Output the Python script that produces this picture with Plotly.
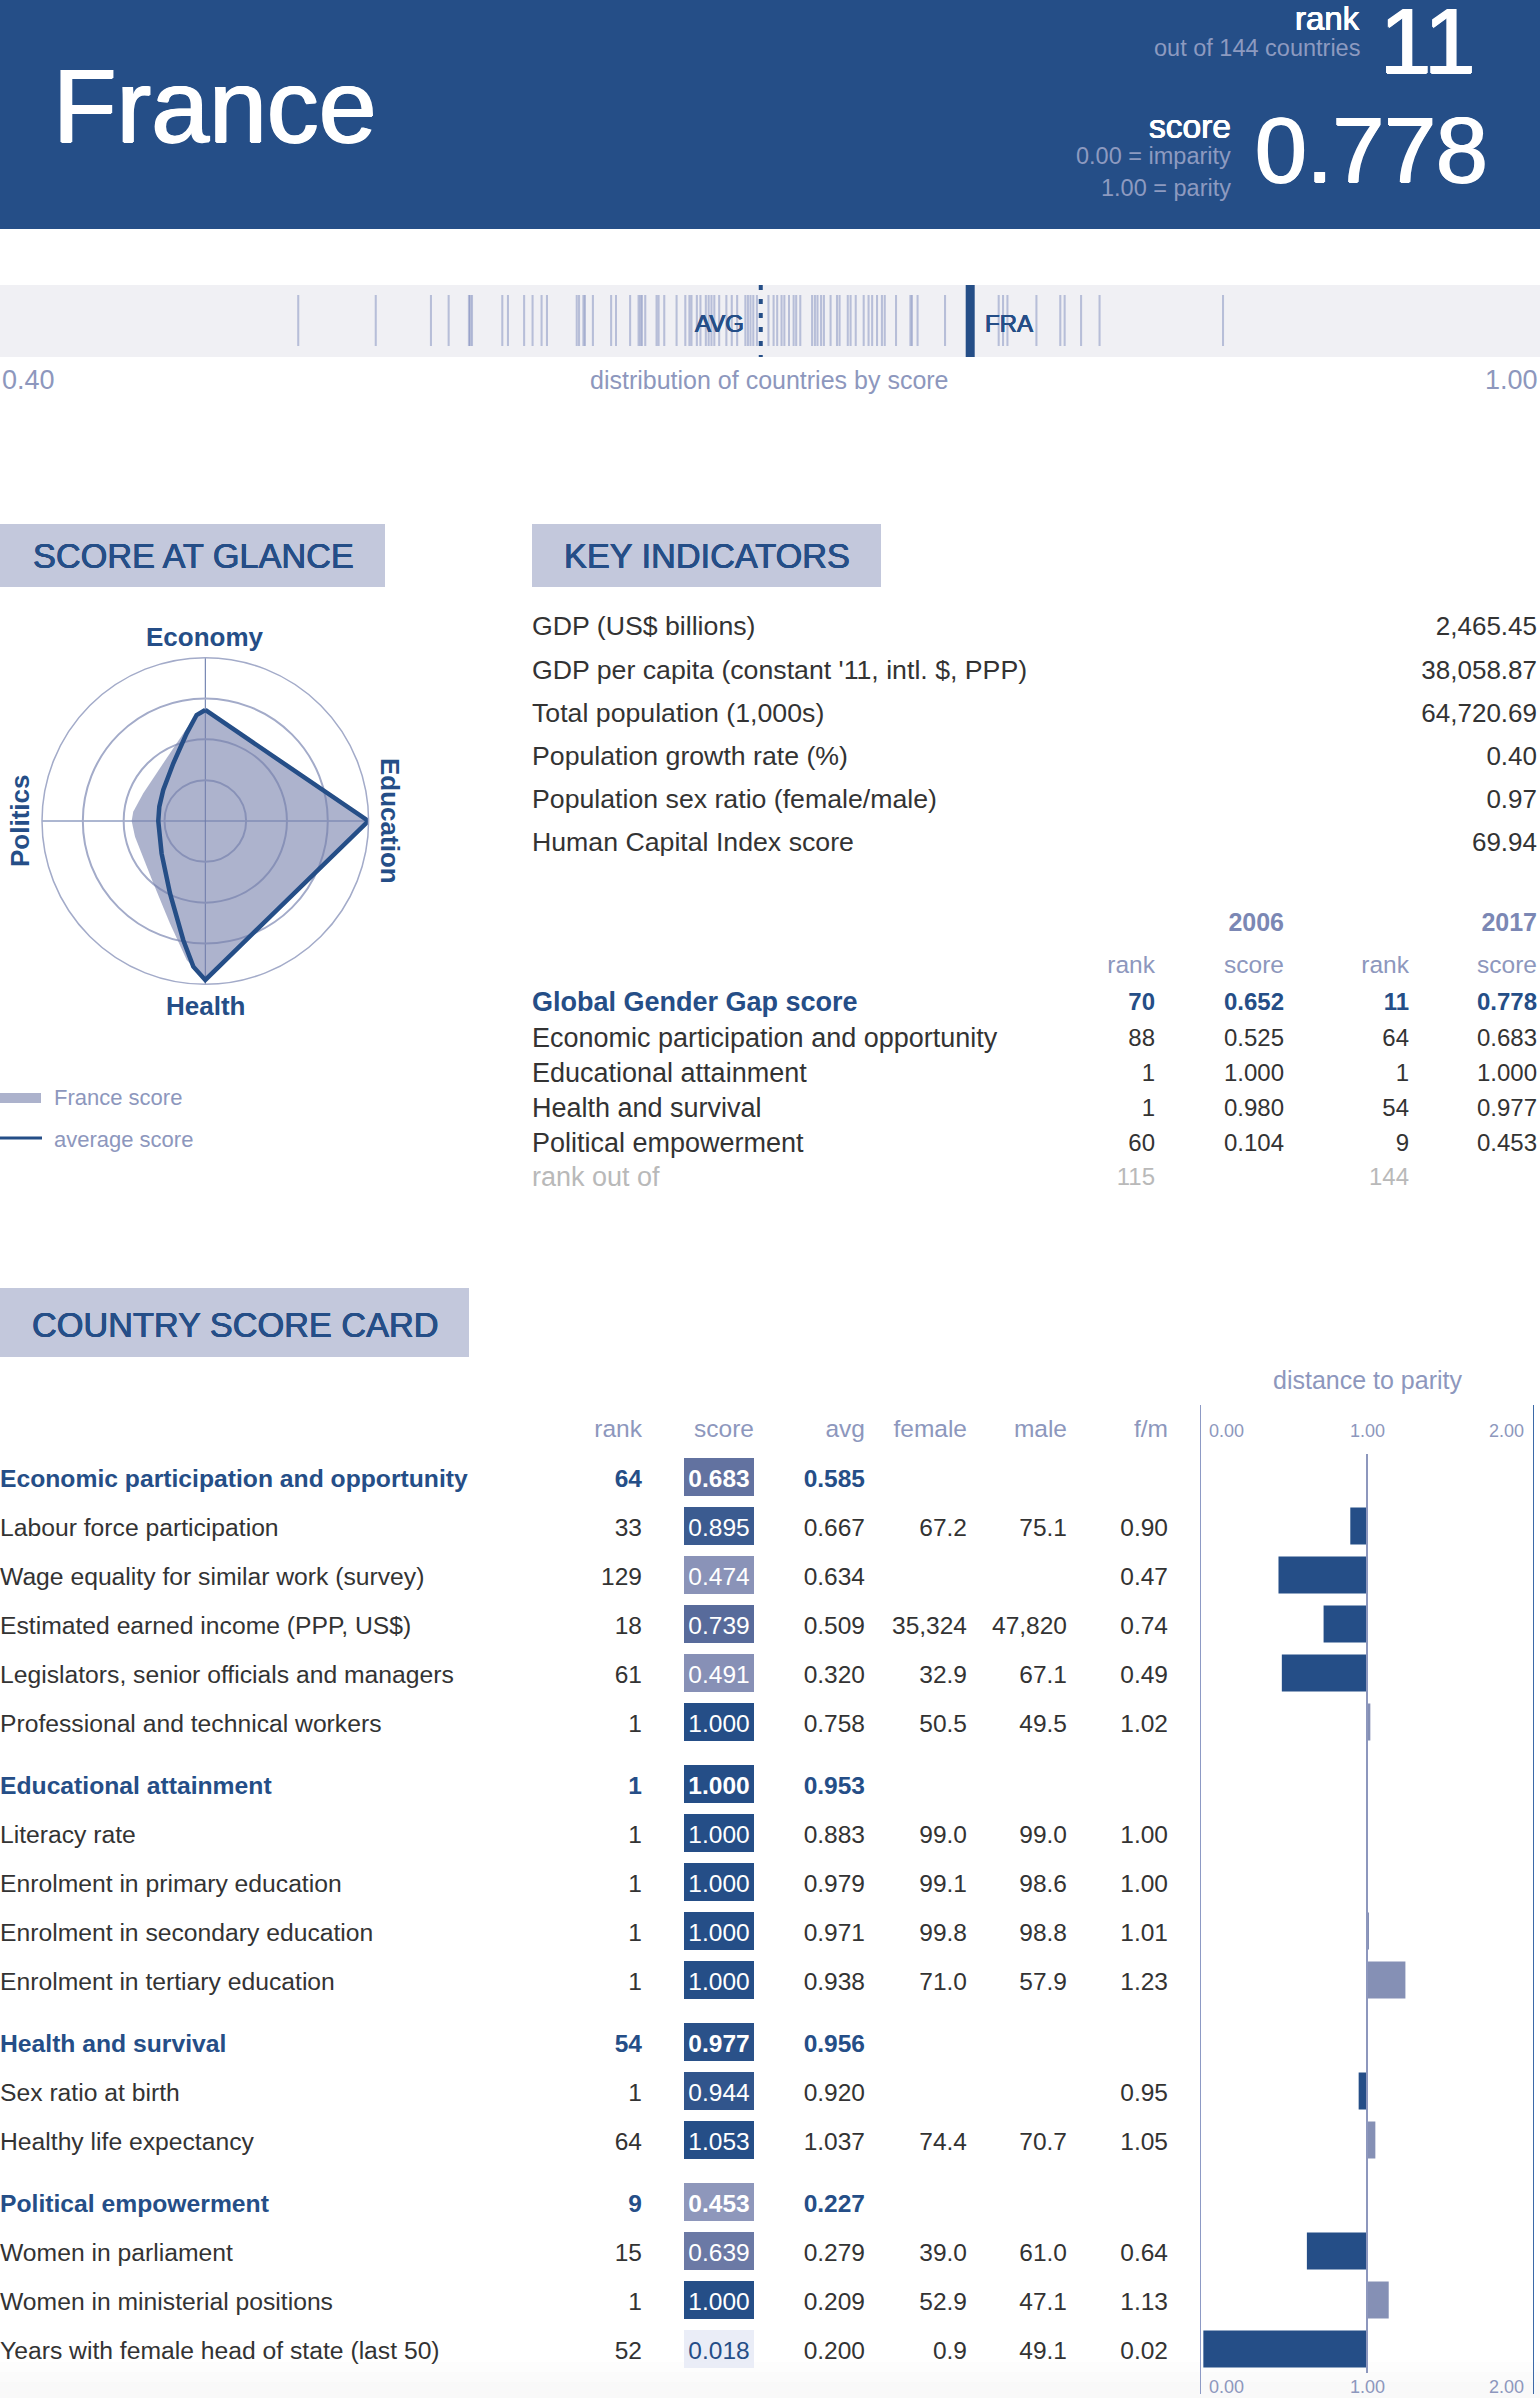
from plotly.colors import sample_colorscale
import plotly.graph_objects as go

W, H = 1540, 2398
NAVY = "#254e87"
PERI = "#8d97bd"
DARK = "#333333"
FONT = "Liberation Sans"

# distribution strip
country_scores = [
    0.5162, 0.5464, 0.5679, 0.5748, 0.5827, 0.5832, 0.5839, 0.5957, 0.5979, 0.6042, 0.6075, 0.6110,
    0.6131, 0.6247, 0.6256, 0.6273, 0.6279, 0.6310, 0.6381, 0.6400, 0.6455, 0.6488, 0.6495, 0.6501,
    0.6514, 0.6558, 0.6566, 0.6588, 0.6636, 0.6670, 0.6686, 0.6694, 0.6715, 0.6729, 0.6750, 0.6761,
    0.6772, 0.6783, 0.6802, 0.6830, 0.6851, 0.6872, 0.6904, 0.6914, 0.6924, 0.6935, 0.6949, 0.6994,
    0.7014, 0.7028, 0.7045, 0.7056, 0.7074, 0.7092, 0.7102, 0.7118, 0.7164, 0.7175, 0.7185, 0.7199,
    0.7210, 0.7236, 0.7261, 0.7271, 0.7303, 0.7314, 0.7334, 0.7365, 0.7384, 0.7398, 0.7417, 0.7436,
    0.7447, 0.7491, 0.7547, 0.7553, 0.7575, 0.7682, 0.7891, 0.7908, 0.7925, 0.8038, 0.8131, 0.8148,
    0.8212, 0.8284, 0.8765,
]
avg_score = 0.6964
fra_score = 0.778

# radar
france_theta = [90, 98.9, 126.1, 155.9, 172.6, 180, 192.6, 230.2, 250.9, 262.4, 270, 360, 450]
france_r = [0.68, 0.605, 0.437, 0.416, 0.445, 0.451, 0.441, 0.497, 0.663, 0.859, 0.973, 0.998, 0.68]
avg_theta = [90, 94.7, 102, 119, 143.6, 162.7, 180, 216.5, 244, 259.5, 265.3, 270, 360, 450]
avg_r = [0.68, 0.651, 0.549, 0.404, 0.32, 0.295, 0.288, 0.333, 0.493, 0.741, 0.895, 0.973, 0.998, 0.68]

# key indicators
key_labels = [
    "GDP (US$ billions)", "GDP per capita (constant '11, intl. $, PPP)", "Total population (1,000s)",
    "Population growth rate (%)", "Population sex ratio (female/male)", "Human Capital Index score",
]
key_values = ["2,465.45", "38,058.87", "64,720.69", "0.40", "0.97", "69.94"]

gap_labels = [
    "Global Gender Gap score", "Economic participation and opportunity", "Educational attainment",
    "Health and survival", "Political empowerment", "rank out of",
]
gap_rank_06 = ["70", "88", "1", "1", "60", "115"]
gap_score_06 = ["0.652", "0.525", "1.000", "0.980", "0.104", ""]
gap_rank_17 = ["11", "64", "1", "54", "9", "144"]
gap_score_17 = ["0.778", "0.683", "1.000", "0.977", "0.453", ""]

# score card
card_labels = [
    "Economic participation and opportunity", "Labour force participation", "Wage equality for similar work (survey)",
    "Estimated earned income (PPP, US$)", "Legislators, senior officials and managers",
    "Professional and technical workers", "Educational attainment", "Literacy rate",
    "Enrolment in primary education", "Enrolment in secondary education", "Enrolment in tertiary education",
    "Health and survival", "Sex ratio at birth", "Healthy life expectancy", "Political empowerment",
    "Women in parliament", "Women in ministerial positions", "Years with female head of state (last 50)",
]
is_header = [1, 0, 0, 0, 0, 0, 1, 0, 0, 0, 0, 1, 0, 0, 1, 0, 0, 0]
card_rank = [64, 33, 129, 18, 61, 1, 1, 1, 1, 1, 1, 54, 1, 64, 9, 15, 1, 52]
card_score = [0.683, 0.895, 0.474, 0.739, 0.491, 1.000, 1.000, 1.000, 1.000, 1.000, 1.000, 0.977, 0.944, 1.053,
              0.453, 0.639, 1.000, 0.018]
card_avg = [0.585, 0.667, 0.634, 0.509, 0.320, 0.758, 0.953, 0.883, 0.979, 0.971, 0.938, 0.956, 0.920, 1.037,
            0.227, 0.279, 0.209, 0.200]
card_female = ["", "67.2", "", "35,324", "32.9", "50.5", "", "99.0", "99.1", "99.8", "71.0", "", "", "74.4", "",
               "39.0", "52.9", "0.9"]
card_male = ["", "75.1", "", "47,820", "67.1", "49.5", "", "99.0", "98.6", "98.8", "57.9", "", "", "70.7", "",
             "61.0", "47.1", "49.1"]
card_fm = [None, 0.90, 0.47, 0.74, 0.49, 1.02, None, 1.00, 1.00, 1.01, 1.23, None, 0.95, 1.05, None, 0.64, 1.13, 0.02]

# row centres in page pixels: fixed step plus a gap before each group
row_y = []
y_now = 1477
for i, head in enumerate(is_header):
    if head and i:
        y_now += 13
    row_y.append(y_now)
    y_now += 49
text_y = [y + 3.5 for y in row_y]

SCORE_SCALE = [[0, "#eef1f9"], [0.474, "#8a93b8"], [0.7, "#5f6f9e"], [0.9, "#3a5a90"], [1, NAVY]]
cell_fill = [sample_colorscale(SCORE_SCALE, [min(s, 1)])[0] for s in card_score]


def column(x, ys, texts, pos="middle left", color=DARK, size=24.5):
    return go.Scatter(x=[x] * len(ys), y=ys, text=texts, mode="text", textposition=pos, cliponaxis=False,
                      textfont={"family": FONT, "size": size, "color": color}, hoverinfo="skip")


def bold_if(flags, values):
    return [f"<b>{v}</b>" if f else str(v) for f, v in zip(flags, values)]


def row_colors(color=DARK):
    return [NAVY if h else color for h in is_header]


def heavy(color, px=1):
    # thickens regular glyphs to the medium weight of the original
    return f"{px}px 0 0 {color}, -{px}px 0 0 {color}, 0 {px}px 0 {color}"


fig = go.Figure()

# strip
fig.add_trace(go.Bar(x=country_scores, y=[51] * len(country_scores), base=295, width=0.0008, xaxis="x2",
                     marker={"color": "rgba(62,84,160,0.32)", "line": {"width": 0}}, hoverinfo="skip"))
fig.add_trace(go.Scatter(x=[fra_score, fra_score], y=[285, 357], xaxis="x2", mode="lines",
                         line={"color": NAVY, "width": 9}, hoverinfo="skip"))
fig.add_trace(go.Scatter(x=[avg_score, avg_score], y=[285, 357], xaxis="x2", mode="lines",
                         line={"color": NAVY, "width": 4, "dash": "5px,9px"}, hoverinfo="skip"))

# radar
fig.add_trace(go.Scatterpolar(r=france_r, theta=france_theta, mode="lines", fill="toself", line={"width": 0},
                              fillcolor="rgba(118,128,172,0.6)", hoverinfo="skip"))
fig.add_trace(go.Scatterpolar(r=avg_r, theta=avg_theta, mode="lines", line={"color": NAVY, "width": 4.5},
                              hoverinfo="skip"))

# key indicators
key_y = [628, 672, 715, 758, 801, 844]
fig.add_trace(column(532, key_y, key_labels, "middle right", size=26.7))
fig.add_trace(column(1537, key_y, key_values, size=26))

gap_y = [1004, 1040, 1075, 1110, 1145, 1179]
gap_flags = [1, 0, 0, 0, 0, 0]
gap_colors = [NAVY, DARK, DARK, DARK, DARK, "#b9b9b9"]
fig.add_trace(go.Scatter(x=[532] * 6, y=gap_y, text=bold_if(gap_flags, gap_labels), mode="text",
                         textposition="middle right", cliponaxis=False, hoverinfo="skip",
                         textfont={"family": FONT, "size": 27, "color": gap_colors}))
for x, vals in [(1155, gap_rank_06), (1284, gap_score_06), (1409, gap_rank_17), (1537, gap_score_17)]:
    fig.add_trace(column(x, gap_y, bold_if(gap_flags, vals), color=gap_colors, size=24))
for x, txt in [(1284, "<b>2006</b>"), (1537, "<b>2017</b>")]:
    fig.add_trace(column(x, [925], [txt], color="#7b87b4", size=25))
for x in (1155, 1409):
    fig.add_trace(column(x, [967], ["rank"], color=PERI))
for x in (1284, 1537):
    fig.add_trace(column(x, [967], ["score"], color=PERI))

# score card
fig.add_trace(go.Bar(y=row_y, x=[70] * len(row_y), base=684, width=38, orientation="h",
                     marker={"color": cell_fill, "line": {"width": 0}}, hoverinfo="skip"))
fig.add_trace(column(0, text_y, bold_if(is_header, card_labels), "middle right", row_colors(), 24.7))
fig.add_trace(column(642, text_y, bold_if(is_header, card_rank), color=row_colors()))
fig.add_trace(column(719, text_y, bold_if(is_header, [f"{s:.3f}" for s in card_score]), "middle center",
                     ["white" if s > 0.1 else NAVY for s in card_score]))
fig.add_trace(column(865, text_y, bold_if(is_header, [f"{a:.3f}" for a in card_avg]), color=row_colors()))
fig.add_trace(column(967, text_y, card_female))
fig.add_trace(column(1067, text_y, card_male))
fig.add_trace(column(1168, text_y, ["" if v is None else f"{v:.2f}" for v in card_fm]))
for x, txt in [(642, "rank"), (754, "score"), (865, "avg"), (967, "female"), (1067, "male"), (1168, "f/m")]:
    fig.add_trace(column(x, [1431], [txt], color=PERI))

# distance to parity bars
bar_y = [y for y, v in zip(row_y, card_fm) if v is not None]
bar_fm = [v for v in card_fm if v is not None]
fig.add_trace(go.Bar(y=bar_y, x=[v - 1 for v in bar_fm], base=1, width=37, orientation="h", xaxis="x3",
                     marker={"color": [NAVY if v < 1 else "#8590b5" for v in bar_fm], "line": {"width": 0}},
                     hoverinfo="skip"))

shapes = [
    {"type": "rect", "xref": "x", "yref": "y", "x0": 0, "x1": W, "y0": 0, "y1": 229, "fillcolor": NAVY,
     "line": {"width": 0}, "layer": "below"},
    {"type": "rect", "xref": "x", "yref": "y", "x0": 0, "x1": W, "y0": 285, "y1": 357, "fillcolor": "#f0f0f4",
     "line": {"width": 0}, "layer": "below"},
    {"type": "rect", "xref": "x", "yref": "y", "x0": 0, "x1": 385, "y0": 524, "y1": 587, "fillcolor": "#c3c8dc",
     "line": {"width": 0}, "layer": "below"},
    {"type": "rect", "xref": "x", "yref": "y", "x0": 532, "x1": 881, "y0": 524, "y1": 587, "fillcolor": "#c3c8dc",
     "line": {"width": 0}, "layer": "below"},
    {"type": "rect", "xref": "x", "yref": "y", "x0": 0, "x1": 469, "y0": 1288, "y1": 1357, "fillcolor": "#c3c8dc",
     "line": {"width": 0}, "layer": "below"},
    {"type": "rect", "xref": "x", "yref": "y", "x0": 0, "x1": 41, "y0": 1093, "y1": 1103, "fillcolor": "#acb2cc",
     "line": {"width": 0}, "layer": "below"},
    {"type": "line", "xref": "x", "yref": "y", "x0": 0, "x1": 42, "y0": 1138, "y1": 1138,
     "line": {"color": NAVY, "width": 3}},
    {"type": "line", "xref": "x3", "yref": "y", "x0": 0, "x1": 0, "y0": 1405, "y1": 2394,
     "line": {"color": "#8d9ac5", "width": 2}},
    {"type": "line", "xref": "x3", "yref": "y", "x0": 1, "x1": 1, "y0": 1454, "y1": 2373,
     "line": {"color": "#8d97bd", "width": 2}},
    {"type": "line", "xref": "x3", "yref": "y", "x0": 2, "x1": 2, "y0": 1405, "y1": 2394,
     "line": {"color": "#3d6aa8", "width": 2}},
]
# faint grey fade at the foot of the page
for y0, y1, c in [(2362, 2372, "#fdfdfd"), (2372, 2382, "#fbfbfb"), (2382, H, "#f9f9f9")]:
    shapes.append({"type": "rect", "xref": "x", "yref": "y", "x0": 0, "x1": W, "y0": y0, "y1": y1, "fillcolor": c,
                   "line": {"width": 0}, "layer": "below"})

LABELS = [
    # text, x, y, anchor, size, color, angle, weight shadow
    ("France", 51, 106, "left", 104, "white", 0, heavy("white", 1)),
    ("rank", 1362, 18, "right", 33, "white", 0, heavy("white", 0.4)),
    ("out of 144 countries", 1362, 48, "right", 23.5, "#8d9ac0", 0, None),
    ("11", 1478, 41, "right", 92, "white", 0, heavy("white", 1)),
    ("score", 1233, 126, "right", 33.5, "white", 0, heavy("white", 0.4)),
    ("0.00 = imparity", 1233, 156, "right", 23.5, "#8d9ac0", 0, None),
    ("1.00 = parity", 1233, 188, "right", 23.5, "#8d9ac0", 0, None),
    ("0.778", 1490, 150, "right", 93, "white", 0, heavy("white", 1)),
    ("AVG", 746, 323, "right", 24, NAVY, 0, heavy(NAVY, 0.4)),
    ("FRA", 983, 323, "left", 24, NAVY, 0, heavy(NAVY, 0.4)),
    ("0.40", 0, 380, "left", 27, PERI, 0, None),
    ("distribution of countries by score", 769, 380, "center", 25, PERI, 0, None),
    ("1.00", 1540, 380, "right", 27, PERI, 0, None),
    ("SCORE AT GLANCE", 193, 556, "center", 34.3, NAVY, 0, heavy(NAVY, 0.4)),
    ("KEY INDICATORS", 707, 556, "center", 34.3, NAVY, 0, heavy(NAVY, 0.4)),
    ("COUNTRY SCORE CARD", 235, 1325, "center", 34.3, NAVY, 0, heavy(NAVY, 0.4)),
    ("<b>Economy</b>", 205, 637, "center", 26, NAVY, 0, None),
    ("<b>Health</b>", 205, 1006, "center", 26, NAVY, 0, None),
    ("<b>Politics</b>", 20, 821, "center", 26, NAVY, -90, None),
    ("<b>Education</b>", 390, 821, "center", 26, NAVY, 90, None),
    ("France score", 52, 1097, "left", 22, PERI, 0, None),
    ("average score", 52, 1139, "left", 22, PERI, 0, None),
    ("distance to parity", 1367, 1380, "center", 25, PERI, 0, None),
    ("0.00", 1207, 1431, "left", 18, PERI, 0, None),
    ("1.00", 1367, 1431, "center", 18, PERI, 0, None),
    ("2.00", 1526, 1431, "right", 18, PERI, 0, None),
    ("0.00", 1207, 2387, "left", 18, PERI, 0, None),
    ("1.00", 1367, 2387, "center", 18, PERI, 0, None),
    ("2.00", 1526, 2387, "right", 18, PERI, 0, None),
]
annotations = []
for t, x, y, a, s, c, ang, shadow in LABELS:
    font = {"family": FONT, "size": s, "color": c}
    if shadow:
        font["shadow"] = shadow
    annotations.append({"text": t, "x": x, "y": y, "xref": "x", "yref": "y", "xanchor": a, "yanchor": "middle",
                        "showarrow": False, "textangle": ang, "font": font})

hidden = {"visible": False, "fixedrange": True}
fig.update_layout(
    width=W,
    height=H,
    margin={"l": 0, "r": 0, "t": 0, "b": 0},
    paper_bgcolor="white",
    plot_bgcolor="rgba(0,0,0,0)",
    showlegend=False,
    barmode="overlay",
    font={"family": FONT},
    shapes=shapes,
    annotations=annotations,
    xaxis={**hidden, "range": [0, W], "domain": [0, 1]},
    yaxis={**hidden, "range": [H, 0], "domain": [0, 1]},
    xaxis2={**hidden, "range": [0.40, 1.00], "domain": [0, 1], "anchor": "y"},
    xaxis3={**hidden, "range": [0, 2], "domain": [1200 / W, 1534 / W], "anchor": "y"},
    polar={
        "domain": {"x": [(205.3 - 163.3) / W, (205.3 + 163.3) / W], "y": [1 - (821 + 163.3) / H, 1 - (821 - 163.3) / H]},
        "bgcolor": "rgba(0,0,0,0)",
        "radialaxis": {"range": [0, 1], "tickvals": [0.25, 0.5, 0.75], "showticklabels": False, "ticks": "",
                       "showline": False, "gridcolor": "#a3abc9", "gridwidth": 1.5},
        "angularaxis": {"tickvals": [0, 90, 180, 270], "showticklabels": False, "ticks": "", "showline": True,
                        "linecolor": "#a3abc9", "linewidth": 1.5, "gridcolor": "#5a6fa3", "gridwidth": 1},
    },
)

fig.write_html("out.html", config={"displayModeBar": False}, post_script="document.body.style.margin='0';")
